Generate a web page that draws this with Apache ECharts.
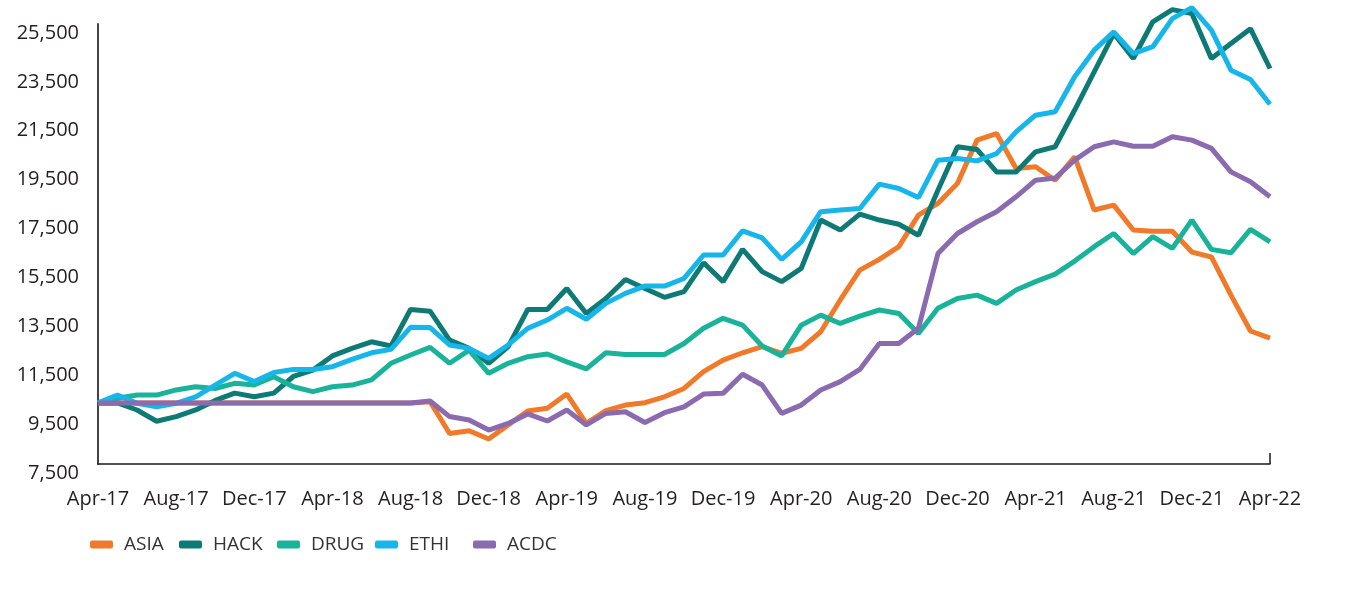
<!DOCTYPE html>
<html>
<head>
<meta charset="utf-8">
<script src="https://cdn.jsdelivr.net/npm/echarts@6/dist/echarts.min.js"></script>
<style>
  html, body { margin: 0; padding: 0; background: #fff; }
  #main { width: 1368px; height: 590px; }
</style>
</head>
<body>
<div id="main"></div>
<script>
// months, Apr-17 .. Apr-22
var months = [
  'Apr-17','May-17','Jun-17','Jul-17','Aug-17','Sep-17','Oct-17','Nov-17','Dec-17','Jan-18','Feb-18','Mar-18',
  'Apr-18','May-18','Jun-18','Jul-18','Aug-18','Sep-18','Oct-18','Nov-18','Dec-18','Jan-19','Feb-19','Mar-19',
  'Apr-19','May-19','Jun-19','Jul-19','Aug-19','Sep-19','Oct-19','Nov-19','Dec-19','Jan-20','Feb-20','Mar-20',
  'Apr-20','May-20','Jun-20','Jul-20','Aug-20','Sep-20','Oct-20','Nov-20','Dec-20','Jan-21','Feb-21','Mar-21',
  'Apr-21','May-21','Jun-21','Jul-21','Aug-21','Sep-21','Oct-21','Nov-21','Dec-21','Jan-22','Feb-22','Mar-22',
  'Apr-22'
];

var asia = [
  10000,10000,10000,10000,10000,10000,10000,10000,10000,10000,10000,10000,
  10000,10000,10000,10000,10000,10050,8750,8860,8520,9100,9670,9780,
  10360,9160,9680,9910,10010,10250,10590,11280,11750,12050,12300,12030,
  12230,12910,14210,15430,15870,16390,17680,18160,18980,20750,21020,19590,
  19660,19110,20070,17890,18090,17070,17020,17020,16170,15970,14410,12940,
  12650
];
var hack = [
  10000,10000,9710,9250,9440,9710,10100,10400,10250,10400,11080,11340,
  11920,12230,12500,12330,13820,13750,12570,12230,11620,12300,13820,13820,
  14680,13660,14270,15050,14680,14320,14550,15730,14960,16280,15370,14960,
  15500,17480,17070,17720,17480,17310,16860,18700,20480,20370,19450,19450,
  20270,20480,21980,23540,25110,24090,25590,26090,25930,24090,24700,25310,
  23680
];
var drug = [
  10000,10190,10320,10320,10530,10660,10590,10800,10730,11070,10660,10460,
  10660,10730,10940,11620,11960,12270,11620,12160,11210,11620,11890,12000,
  11680,11390,12050,11980,11980,11980,12430,13050,13460,13180,12330,11920,
  13180,13590,13250,13550,13800,13660,12840,13870,14270,14410,14070,14620,
  14960,15270,15800,16390,16930,16110,16800,16320,17480,16280,16140,17100,
  16590
];
var ethi = [
  10000,10320,9980,9840,9980,10250,10730,11210,10870,11240,11370,11370,
  11480,11780,12050,12190,13090,13080,12370,12230,11820,12370,13050,13390,
  13870,13420,14070,14480,14780,14780,15090,16050,16050,17040,16750,15870,
  16590,17820,17890,17950,18950,18770,18400,19930,20000,19900,20200,21090,
  21770,21910,23340,24430,25180,24290,24570,25720,26170,25250,23610,23230,
  22220
];
var acdc = [
  10000,10000,10000,10000,10000,10000,10000,10000,10000,10000,10000,10000,
  10000,10000,10000,10000,10000,10080,9440,9300,8890,9160,9550,9260,
  9710,9100,9570,9640,9200,9600,9840,10360,10390,11170,10730,9570,
  9910,10530,10870,11370,12430,12430,13050,16110,16930,17410,17820,18430,
  19110,19200,19930,20480,20680,20500,20500,20890,20750,20410,19450,19050,
  18430
];

var names = ['ASIA', 'HACK', 'DRUG', 'ETHI', 'ACDC'];
var colors = ['#f07a2a', '#0e7a76', '#19b39a', '#17b6ea', '#8a6bb0'];
var values = [asia, hack, drug, ethi, acdc];
var legendLeft = [90, 179, 277, 375, 473];   // 图例位置

var font = '"Open Sans", "Noto Sans", sans-serif';

var chart = echarts.init(document.getElementById('main'));

var series = [], legends = [];
for (var k = 0; k < names.length; k++) {
    series.push({
        name: names[k],
        type: 'line',
        data: values[k],
        symbol: 'none',
        clip: false,
        color: colors[k],
        lineStyle: { width: 5, color: colors[k] }
    });
    legends.push({
        data: [names[k]],
        left: legendLeft[k],
        top: 535,
        padding: 0,
        icon: 'roundRect',
        itemWidth: 23,
        itemHeight: 8,
        textStyle: {
            fontFamily: font,
            fontSize: 19,
            color: '#333',
            padding: [0, 0, 0, 6]
        }
    });
}

var option = {
    animation: false,
    backgroundColor: '#ffffff',
    grid: { left: 98, right: 98, top: 24, bottom: 126 },
    legend: legends,
    xAxis: {
        type: 'category',
        data: months,
        boundaryGap: false,
        axisLine: { show: true, lineStyle: { color: '#1a1a1a', width: 1.5 } },
        axisTick: {
            show: true,
            inside: true,
            length: 11,
            interval: function (idx) { return idx === months.length - 1; },
            lineStyle: { color: '#1a1a1a', width: 1.5 }
        },
        axisLabel: {
            interval: 3,
            margin: 25,
            fontFamily: font,
            fontSize: 20,
            color: '#231f20'
        },
        splitLine: { show: false }
    },
    yAxis: {
        type: 'value',
        min: 7500,
        max: 25500,
        interval: 2000,
        axisLine: { show: true, lineStyle: { color: '#444', width: 2 } },
        axisTick: { show: false },
        splitLine: { show: false },
        axisLabel: {
            margin: 19,
            verticalAlign: 'top',
            lineHeight: 18,
            fontFamily: font,
            fontSize: 20,
            color: '#231f20',
            formatter: function (v) { return v.toLocaleString('en-US'); }
        }
    },
    series: series
};

chart.setOption(option);
</script>
</body>
</html>
